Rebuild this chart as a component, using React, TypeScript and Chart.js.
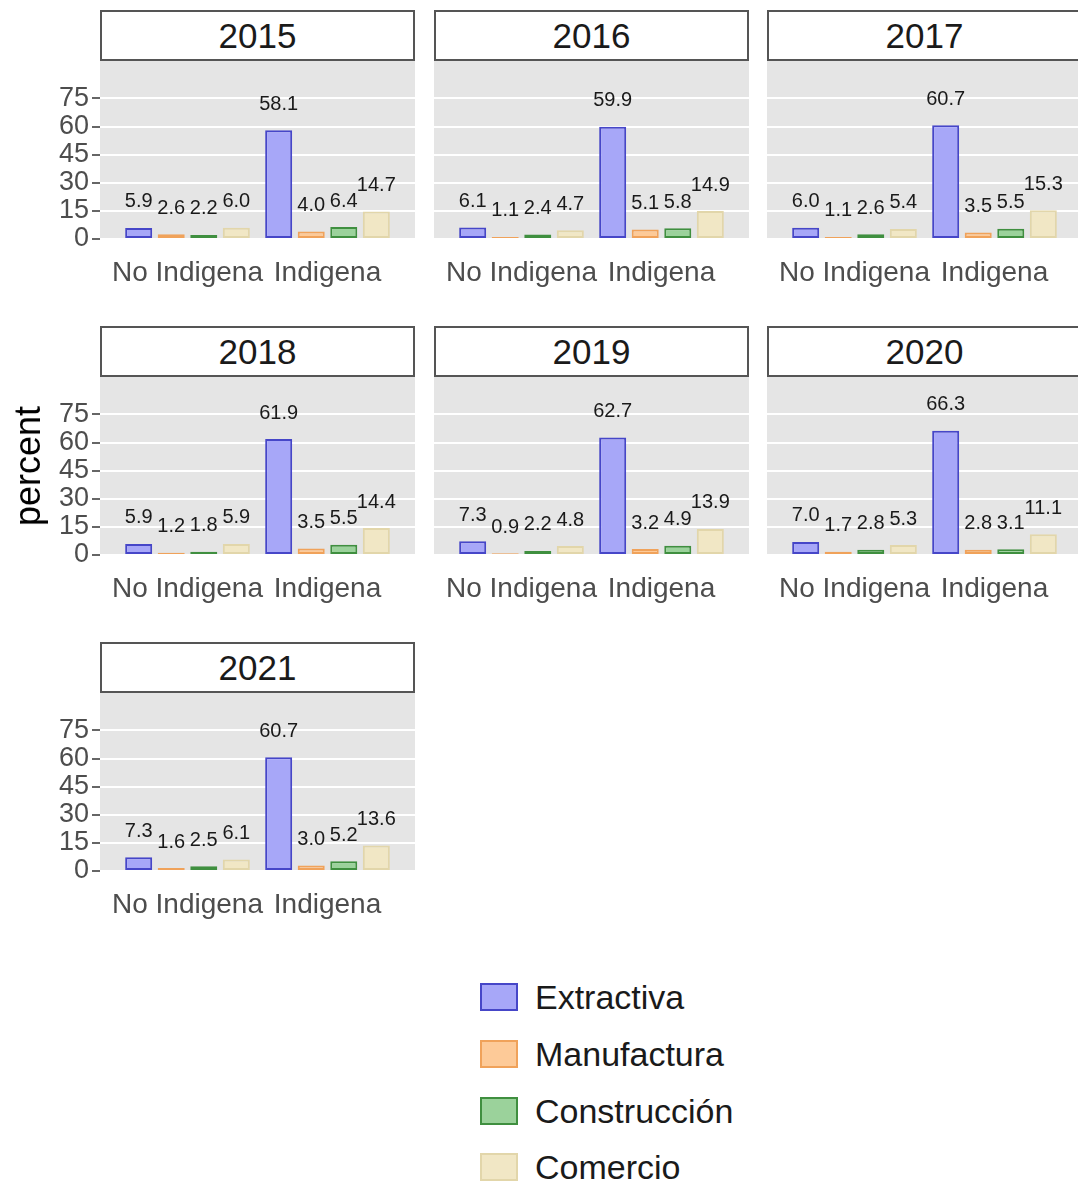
import React, { useEffect, useRef } from 'react';
import { Chart, registerables } from 'chart.js';

Chart.register(...registerables);

const FONT = '"Liberation Sans", Arial, Helvetica, sans-serif';

// ---- data ----
const years = ['2015', '2016', '2017', '2018', '2019', '2020', '2021'];
const categories = ['No Indigena', 'Indigena'];
const sectors = ['Extractiva', 'Manufactura', 'Construcción', 'Comercio'];

const extractivaNoIndigena = [5.9, 6.1, 6.0, 5.9, 7.3, 7.0, 7.3];
const extractivaIndigena = [58.1, 59.9, 60.7, 61.9, 62.7, 66.3, 60.7];
const manufacturaNoIndigena = [2.6, 1.1, 1.1, 1.2, 0.9, 1.7, 1.6];
const manufacturaIndigena = [4.0, 5.1, 3.5, 3.5, 3.2, 2.8, 3.0];
const construccionNoIndigena = [2.2, 2.4, 2.6, 1.8, 2.2, 2.8, 2.5];
const construccionIndigena = [6.4, 5.8, 5.5, 5.5, 4.9, 3.1, 5.2];
const comercioNoIndigena = [6.0, 4.7, 5.4, 5.9, 4.8, 5.3, 6.1];
const comercioIndigena = [14.7, 14.9, 15.3, 14.4, 13.9, 11.1, 13.6];

const yTicks = [0, 15, 30, 45, 60, 75];

const seriesValues = [
  [extractivaNoIndigena, extractivaIndigena],
  [manufacturaNoIndigena, manufacturaIndigena],
  [construccionNoIndigena, construccionIndigena],
  [comercioNoIndigena, comercioIndigena],
];

// ---- styles ----
const fills = ['#a7a7f8', '#fdca98', '#9bd29b', '#f1e7c5'];
const borders = ['#4646c8', '#f0a25a', '#3f8f3f', '#e2d6aa'];

const PANEL_W = 315;
const PANEL_H = 178;
const X_AXIS_H = 60;
const STRIP_H = 51;
const colLefts = [100, 434, 767];
const rowTops = [10, 326, 642];

const panelBg = {
  id: 'panelBg',
  beforeDraw(chart: any) {
    const { ctx, chartArea } = chart;
    ctx.save();
    ctx.fillStyle = '#e5e5e5';
    ctx.fillRect(chartArea.left, chartArea.top, chartArea.width, chartArea.height);
    ctx.restore();
  },
};

const valueLabels = {
  id: 'valueLabels',
  afterDatasetsDraw(chart: any) {
    const ctx = chart.ctx;
    ctx.save();
    ctx.font = `20px ${FONT}`;
    ctx.fillStyle = '#1a1a1a';
    ctx.textAlign = 'center';
    ctx.textBaseline = 'middle';
    chart.data.datasets.forEach((ds: any, di: number) => {
      const meta = chart.getDatasetMeta(di);
      meta.data.forEach((el: any, i: number) => {
        const v = ds.data[i].y;
        ctx.fillText(v.toFixed(1), el.x, el.y - 26);
      });
    });
    ctx.restore();
  },
};

function Panel({ yearIndex, showY, left, top }: { yearIndex: number; showY: boolean; left: number; top: number }) {
  const ref = useRef<HTMLCanvasElement | null>(null);
  const axisW = showY ? 100 : 0;
  const width = PANEL_W + axisW;
  const height = PANEL_H + X_AXIS_H;

  useEffect(() => {
    if (!ref.current) return;
    const datasets = sectors.map((name, s) => ({
      label: name,
      data: categories.map((_, ci) => ({ x: ci, y: seriesValues[s][ci][yearIndex] })),
      backgroundColor: fills[s],
      borderColor: borders[s],
      borderWidth: 2,
      borderSkipped: false,
      categoryPercentage: 0.93,
      barPercentage: 0.83,
    }));
    const chart = new Chart(ref.current, {
      type: 'bar',
      data: { datasets } as any,
      options: {
        animation: false,
        responsive: false,
        maintainAspectRatio: false,
        layout: { padding: 0 },
        plugins: {
          legend: { display: false },
          tooltip: { enabled: false },
          title: { display: false },
        },
        scales: {
          x: {
            type: 'linear',
            offset: false,
            min: -0.625,
            max: 1.625,
            grid: { display: false, drawTicks: false, offset: false },
            border: { display: false },
            afterBuildTicks: (s: any) => {
              s.ticks = categories.map((_, i) => ({ value: i }));
            },
            afterFit: (s: any) => {
              s.height = X_AXIS_H;
              s.paddingLeft = 0;
              s.paddingRight = 0;
            },
            ticks: {
              callback: (v: any) => categories[Math.round(Number(v))],
              font: { family: FONT, size: 28 },
              color: '#4d4d4d',
              padding: 17,
              maxRotation: 0,
              minRotation: 0,
              autoSkip: false,
            },
          },
          y: {
            type: 'linear',
            min: 0,
            max: 95,
            afterBuildTicks: (s: any) => {
              s.ticks = yTicks.map((v) => ({ value: v }));
            },
            afterFit: (s: any) => {
              s.width = axisW;
              s.paddingTop = 0;
              s.paddingBottom = 0;
            },
            grid: {
              color: '#ffffff',
              lineWidth: 2,
              drawTicks: showY,
              tickLength: 8,
              tickColor: '#333333',
              tickWidth: 1.5,
            },
            border: { display: false },
            ticks: {
              display: showY,
              font: { family: FONT, size: 27 },
              color: '#4d4d4d',
              padding: 3,
            },
          },
        },
      } as any,
      plugins: [panelBg, valueLabels],
    });
    return () => chart.destroy();
  }, [yearIndex, showY]);

  return (
    <canvas
      ref={ref}
      width={width}
      height={height}
      style={{ position: 'absolute', left: left - axisW, top, width, height }}
    />
  );
}

export default function App() {
  return (
    <div
      style={{
        position: 'absolute',
        left: 0,
        top: 0,
        width: 1078,
        height: 1184,
        overflow: 'hidden',
        background: '#ffffff',
        fontFamily: FONT,
      }}
    >
      {years.map((yr, i) => {
        const col = i % 3;
        const row = Math.floor(i / 3);
        const left = colLefts[col];
        const top = rowTops[row];
        return (
          <React.Fragment key={yr}>
            <div
              style={{
                position: 'absolute',
                left,
                top,
                width: PANEL_W,
                height: STRIP_H,
                boxSizing: 'border-box',
                border: '2px solid #555555',
                background: '#ffffff',
                display: 'flex',
                alignItems: 'center',
                justifyContent: 'center',
                fontSize: 35,
                color: '#1a1a1a',
                lineHeight: 1,
              }}
            >
              {yr}
            </div>
            <Panel yearIndex={i} showY={col === 0} left={left} top={top + STRIP_H} />
          </React.Fragment>
        );
      })}

      <div
        style={{
          position: 'absolute',
          left: 28,
          top: 466,
          transform: 'translate(-50%, -50%) rotate(-90deg)',
          fontSize: 36,
          color: '#000000',
          whiteSpace: 'nowrap',
          lineHeight: 1,
        }}
      >
        percent
      </div>

      {sectors.map((name, s) => {
        const keyTops = [983, 1040, 1097, 1153];
        return (
          <div
            key={name}
            style={{
              position: 'absolute',
              left: 480,
              top: keyTops[s],
              height: 28,
              display: 'flex',
              alignItems: 'center',
              whiteSpace: 'nowrap',
            }}
          >
            <div
              style={{
                width: 38,
                height: 28,
                boxSizing: 'border-box',
                background: fills[s],
                border: `2px solid ${borders[s]}`,
              }}
            />
            <span style={{ marginLeft: 17, fontSize: 34, color: '#1a1a1a', lineHeight: 1 }}>{name}</span>
          </div>
        );
      })}
    </div>
  );
}
